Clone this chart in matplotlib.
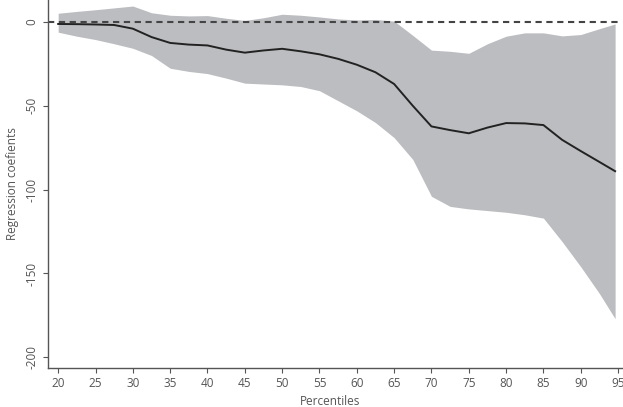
import matplotlib
matplotlib.use("Agg")
import matplotlib.pyplot as plt
import numpy as np

percentiles = [20, 22.5, 25, 27.5, 30, 32.5, 35, 37.5, 40, 42.5, 45, 47.5, 50, 52.5, 55,
               57.5, 60, 62.5, 65, 67.5, 70, 72.5, 75, 77.5, 80, 82.5, 85, 87.5, 90, 92.5, 94.6]
upper = [5.2, 6.3, 7.3, 8.4, 9.5, 5.5, 4.0, 3.6, 3.8, 2.2, 0.9, 2.5, 4.6, 4.0, 3.0,
         1.8, 1.2, 1.5, 0.5, -8, -16.8, -17.5, -18.7, -13, -8.5, -6.5, -6.5, -8.3, -7.5, -4, -1.2]
lower = [-6.1, -8.5, -10.5, -13, -15.7, -20, -27.6, -29.5, -30.8, -33.5, -36.5, -37, -37.5, -38.5, -41,
         -47, -53, -60, -69, -82, -104, -110, -111.5, -112.5, -113.5, -115, -117, -131, -146, -162, -177]
coef = [-1.2, -1.3, -1.5, -1.8, -4.0, -9, -12.5, -13.5, -14, -16.5, -18.3, -17, -16, -17.5, -19.3,
        -22, -25.5, -30, -37, -50, -62.3, -64.5, -66.4, -63, -60.3, -60.5, -61.5, -70.3, -77, -83.5, -89]
xticks = [20, 25, 30, 35, 40, 45, 50, 55, 60, 65, 70, 75, 80, 85, 90, 95]
yticks = [0, -50, -100, -150, -200]

plt.rcParams['font.family'] = ['Open Sans', 'DejaVu Sans']
fig = plt.figure(figsize=(6.23, 4.07), dpi=100)
ax = fig.add_axes([0.0766, 0.0966, 0.9395, 0.9034])

ax.fill_between(percentiles, lower, upper, color='#bcbdc0', linewidth=0)
ax.plot(percentiles, coef, color='#222222', linewidth=1.4)
ax.plot([18.6, 95], [0, 0], color='#444444', linewidth=1.5, linestyle=(0, (3, 2.2)))

ax.set_xlim(18.6, 97)
ax.set_ylim(-206.2, 13.1)
ax.set_xticks(xticks)
ax.set_yticks(yticks)
ax.set_yticklabels([str(v) for v in yticks], rotation=90, va='center')
for s in ['top', 'right']:
    ax.spines[s].set_visible(False)
for s in ['left', 'bottom']:
    ax.spines[s].set_color('#555555')
    ax.spines[s].set_linewidth(1.0)
ax.tick_params(axis='both', colors='#555555', labelcolor='#555555', labelsize=8.5,
               length=3.5, width=0.8)
ax.tick_params(axis='y', pad=3)
ax.tick_params(axis='x', pad=3.5)
ax.set_xlabel('Percentiles', color='#555555', fontsize=8.5)
ax.set_ylabel('Regression coefients', color='#555555', fontsize=8.5)
ax.xaxis.set_label_coords(0.482, -0.0925)
ax.xaxis.label.set_va('center')
ax.yaxis.set_label_coords(-0.061, 0.5)
ax.yaxis.label.set_va('center')

fig.savefig('out.png', dpi=100)
